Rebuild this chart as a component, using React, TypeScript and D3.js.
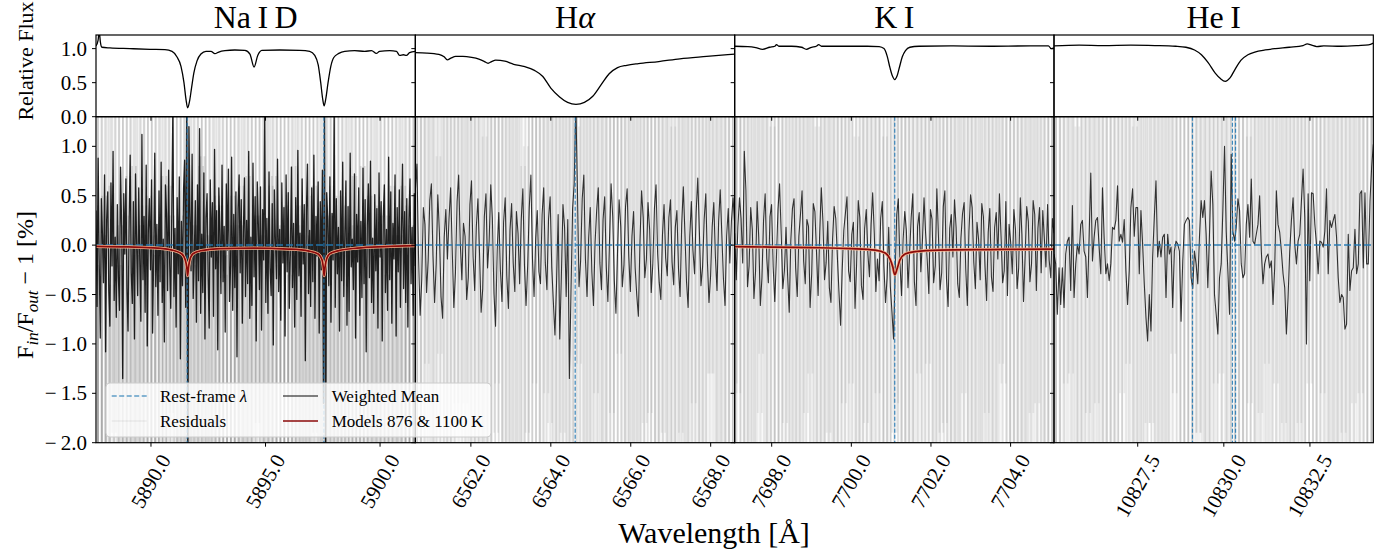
import React from 'react';
import * as d3 from 'd3';

// ---------- data ----------
const panelTitles = ['Na\u2009I\u2009D', 'H', 'K\u2009I', 'He\u2009I'];
const xDomains: [number, number][] = [
  [5887.6, 5901.54],
  [6560.61, 6568.6],
  [7697.07, 7705.09],
  [10825.07, 10834.34],
];
const xTicks = [
  [5890, 5895, 5900],
  [6562, 6564, 6566, 6568],
  [7698, 7700, 7702, 7704],
  [10827.5, 10830, 10832.5],
];
const restLines = [[5891.58, 5897.55], [6564.61], [7701.09], [10829.09, 10830.25, 10830.34]];
const fluxTicks = [0, 0.5, 1.0];
const resTicks = [-2, -1.5, -1, -0.5, 0, 0.5, 1.0];

// top row: relative flux [wavelength, flux]
const naFlux = [
  [5887.6, 1.04], [5887.69, 1.12], [5887.74, 1.25], [5887.79, 1.1], [5887.86, 1.02], [5888.21, 1.01],
  [5889.08, 1.0], [5889.96, 0.99], [5890.61, 0.985], [5890.92, 0.96], [5891.13, 0.88], [5891.31, 0.74],
  [5891.44, 0.5], [5891.53, 0.25], [5891.6, 0.13], [5891.68, 0.22], [5891.77, 0.42], [5891.87, 0.64],
  [5892.01, 0.82], [5892.18, 0.92], [5892.4, 0.96], [5892.62, 0.96], [5892.79, 0.925], [5892.96, 0.95],
  [5893.23, 0.97], [5893.66, 0.98], [5894.1, 0.975], [5894.32, 0.92], [5894.5, 0.73], [5894.66, 0.9],
  [5894.84, 0.975], [5895.62, 0.98], [5896.5, 0.975], [5896.93, 0.96], [5897.15, 0.9], [5897.3, 0.76],
  [5897.41, 0.5], [5897.5, 0.25], [5897.56, 0.16], [5897.63, 0.26], [5897.73, 0.5], [5897.85, 0.74],
  [5897.98, 0.87], [5898.2, 0.93], [5898.46, 0.96], [5898.89, 0.97], [5899.33, 0.96], [5899.63, 0.97],
  [5899.84, 0.93], [5899.98, 0.96], [5900.42, 0.97], [5900.72, 0.96], [5900.85, 0.9], [5901.02, 0.91],
  [5901.15, 0.9], [5901.29, 0.94], [5901.54, 0.96],
];
const haFlux = [
  [6560.61, 0.94], [6560.9, 0.935], [6561.2, 0.915], [6561.33, 0.88], [6561.41, 0.835], [6561.5, 0.86],
  [6561.62, 0.885], [6561.8, 0.885], [6562.02, 0.87], [6562.2, 0.845], [6562.34, 0.81], [6562.43, 0.785],
  [6562.52, 0.81], [6562.62, 0.83], [6562.85, 0.815], [6563.07, 0.77], [6563.35, 0.735], [6563.59, 0.68],
  [6563.8, 0.59], [6564.0, 0.42], [6564.22, 0.29], [6564.42, 0.21], [6564.63, 0.18], [6564.84, 0.21],
  [6565.05, 0.3], [6565.26, 0.47], [6565.46, 0.63], [6565.67, 0.72], [6565.9, 0.755], [6566.19, 0.78],
  [6566.7, 0.81], [6567.23, 0.85], [6567.9, 0.885], [6568.6, 0.92],
];
const kFlux = [
  [7697.07, 1.035], [7697.4, 1.03], [7697.6, 1.015], [7697.77, 0.99], [7697.95, 1.02], [7698.08, 1.035],
  [7698.12, 1.06], [7698.18, 1.035], [7698.5, 1.035], [7698.75, 1.02], [7698.87, 0.99], [7699.0, 1.02],
  [7699.12, 1.035], [7699.18, 1.06], [7699.25, 1.035], [7699.8, 1.035], [7700.4, 1.035], [7700.7, 1.03],
  [7700.82, 1.0], [7700.9, 0.89], [7700.97, 0.72], [7701.03, 0.6], [7701.09, 0.545], [7701.15, 0.6],
  [7701.21, 0.73], [7701.28, 0.88], [7701.36, 0.97], [7701.47, 1.02], [7701.7, 1.035], [7702.5, 1.04],
  [7703.5, 1.035], [7704.5, 1.04], [7704.95, 1.04], [7705.02, 1.0], [7705.09, 1.01],
];
const heFlux = [
  [10825.07, 1.04], [10825.8, 1.05], [10826.5, 1.045], [10827.3, 1.05], [10828.0, 1.045], [10828.6, 1.035],
  [10828.9, 1.02], [10829.15, 0.98], [10829.35, 0.91], [10829.55, 0.79], [10829.75, 0.64], [10829.9, 0.56],
  [10830.04, 0.52], [10830.18, 0.57], [10830.33, 0.7], [10830.5, 0.83], [10830.7, 0.91], [10830.9, 0.95],
  [10831.2, 0.98], [10831.5, 1.0], [10831.9, 1.02], [10832.3, 1.045], [10832.42, 1.07], [10832.55, 1.05],
  [10832.7, 1.03], [10832.9, 1.04], [10833.4, 1.035], [10833.9, 1.045], [10834.2, 1.055], [10834.34, 1.08],
];

// bottom row: weighted mean residuals [%], evenly spread over each panel's range
const naMean = [
  0.35, -0.62, 0.88, -0.15, -0.94, 0.47, 0.12, -0.38, 0.71, -1.08,
  0.26, 0.54, -0.47, -0.82, 0.63, -0.21, 0.95, -0.56, 0.08, -0.73,
  0.41, -0.33, -0.66, 0.79, 0.18, -1.35, 0.52, -0.09, 0.67, -0.44,
  -0.87, 0.23, 0.91, -0.28, -0.59, 0.44, -0.95, 0.72, 0.03, -0.51,
  0.58, -0.16, -0.77, 1.12, -0.35, 0.29, -0.68, 0.81, -1.02, 0.14,
  0.47, -0.25, 0.66, -0.89, -0.11, 0.93, -0.42, 0.21, -0.71, 0.55,
  -0.37, 0.84, -0.58, 0.06, -0.98, 0.61, 0.32, -0.46, 0.76, -0.19,
  -0.64, 0.39, 1.4, -0.52, 0.17, -0.83, 0.48, -0.29, 0.69, -1.15,
  0.24, -0.41, 0.57, 0.86, -0.63, 1.5, -2.4, 1.2, 0.33, -0.26,
  0.92, -0.54, -0.13, 0.45, -0.78, 0.61, -0.36, 1.18, -0.69, 0.11,
  -0.48, 0.73, -0.95, 0.28, 0.52, -0.31, -0.84, 0.66, -0.12, 0.43,
  -0.72, 0.97, -0.24, 0.35, -1.06, 0.58, 0.14, -0.49, 0.81, -0.37,
  0.19, -0.88, 0.62, -0.05, 0.77, -0.57, -0.21, 0.89, -0.66, 0.31,
  -0.43, 0.54, -1.13, 0.37, 0.71, -0.28, 0.46, -0.79, 0.13, 0.68,
  -0.52, 0.25, -0.39, 0.95, -0.74, 0.08, -0.61, 0.83, -0.32, 0.49,
  -0.97, 0.64, 0.21, -0.45, 0.59, -0.86, 0.36, -0.15, 1.35, -0.58,
  0.27, -0.69, 0.74, -0.23, -0.51, 0.42, -1.01, 0.56, 0.04, -0.34,
  0.87, -0.47, 0.16, -0.76, 0.63, -0.18, 0.38, -0.92, 0.71, -0.27,
  0.53, -0.64, -0.08, 0.79, -0.43, 0.22, -0.83, 0.48, -0.55, 0.96,
  -0.31, 0.12, -0.72, 0.67, -0.19, 0.41, -1.17, 0.35, 0.82, -0.49,
  0.15, -0.62, 0.58, -0.37, 0.91, -0.74, 0.29, -0.11, 0.64, -0.89,
  0.44, -0.25, 0.76, -1.6, 1.45, -2.3, 0.53, 0.26, -0.41, 0.69,
  -0.78, 0.32, -0.15, 1.32, -0.63, 0.47, -0.29, 0.18, -0.87, 0.55,
  -0.36, 0.84, -0.52, 0.11, 0.65, -0.81, 0.39, -0.67, 0.93, -0.22,
  0.06, -0.45, 0.72, -0.94, 0.31, -0.17, 0.58, -0.71, 0.24, -0.53,
  0.78, -0.39, 0.46, -1.08, 0.19, 0.62, -0.33, 0.85, -0.58, 0.07,
  -0.69, 0.51, -0.26, 0.37, -0.84, 0.73, -0.12, 0.44, -0.97, 0.29,
  0.61, -0.48, 0.16, -0.66, 0.89, -0.35, 0.54, -0.79, 0.22, -0.14,
  0.71, -0.92, 0.38, -0.27, 0.56, -0.63, 0.13, 0.82, -0.44, 0.34,
  -0.58, 0.47, -0.83, 0.25, 0.67, -0.39, 0.18, -0.71, 0.52, -0.21,
];
const haMean = [
  0.55, 0.82, -0.12, -0.71, -0.35, 0.38, 0.21, -0.48, -0.15, 0.45,
  0.62, -0.11, -0.58, -0.19, 0.51, 0.13, -0.52, -0.74, 0.08, 0.36,
  -0.14, 0.27, 0.58, -0.05, -0.63, -0.28, 0.44, 0.71, 0.02, -0.35,
  0.22, 0.09, -0.55, -0.33, 0.41, 0.65, -0.12, -0.46, 0.18, 0.47,
  -0.08, -0.68, -0.44, 0.29, 0.52, -0.23, 0.04, 0.61, 0.28, -0.49,
  -0.82, -0.06, 0.33, -0.25, -0.57, 0.23, 0.48, -0.31, -0.64, 0.15,
  0.42, -0.18, -0.47, 0.34, 0.12, -0.39, 0.26, 0.57, -0.2, -0.61,
  -0.21, 0.38, 0.71, -0.14, -0.52, 0.07, 0.35, -0.27, -0.39, 0.31,
  0.58, -0.18, -0.45, 0.26, 0.49, -0.22, -0.57, -0.91, -0.38, 0.31,
  -0.95, -0.32, 0.41, 0.18, -0.52, 0.26, -1.35, -0.48, 0.37, 0.62,
  1.45, 0.58, -0.42, -0.16, 0.47, 0.71, -0.14, -0.52, 0.07, 0.38,
  -0.27, -0.61, 0.02, 0.35, 0.58, -0.18, -0.45, 0.26, 0.49, -0.22,
  -0.57, 0.05, 0.62, 0.29, -0.36, -0.69, -0.07, 0.46, 0.19, -0.42,
  -0.2, 0.39, 0.57, -0.11, -0.47, 0.09, 0.34, -0.23, -0.51, -0.72,
  0.04, 0.55, 0.28, -0.33, -0.14, 0.43, 0.16, -0.48, -0.19, 0.37,
  0.61, -0.09, -0.38, -0.55, 0.1, 0.41, -0.13, -0.31, 0.28, 0.46,
  -0.17, -0.4, 0.18, 0.35, -0.24, -0.52, 0.21, 0.59, 0.12, -0.37,
  -0.63, 0.08, 0.44, -0.05, -0.29, 0.33, 0.68, 0.14, -0.41, -0.22,
  0.26, 0.52, -0.16, -0.58, -0.31, 0.19, 0.43, -0.12, -0.46, 0.24,
  0.56, 0.11, -0.34, -0.61, 0.09, 0.37, -0.18, 0.25, 0.48, 0.22,
];
const kMean = [
  0.12, -0.35, 0.18, 0.48, 0.27, -0.18, 0.95, 0.56, -0.42, -0.21,
  0.38, 0.16, -0.54, -0.27, 0.44, 0.08, -0.61, -0.33, 0.25, 0.52,
  -0.13, -0.38, 0.29, 0.41, -0.22, -0.57, -0.14, 0.36, 0.62, 0.11,
  -0.44, -0.26, 0.18, -0.31, -0.68, 0.05, 0.37, 0.47, -0.23, -0.52,
  0.09, 0.31, 0.55, -0.16, -0.39, 0.26, 0.19, -0.63, -0.29, 0.42,
  0.34, -0.07, -0.51, 0.13, 0.58, 0.24, -0.35, -0.18, 0.24, -0.43,
  -0.58, 0.06, 0.39, 0.27, -0.12, -0.47, -0.81, -0.26, 0.15, 0.32,
  0.49, -0.26, -0.37, 0.11, 0.23, -0.64, -0.19, 0.45, 0.28, -0.41,
  -0.55, 0.17, 0.36, -0.08, -0.32, 0.21, 0.53, 0.12, -0.47, -0.14,
  -0.36, 0.27, 0.44, -0.21, -0.58, -0.33, 0.18, -0.42, -0.67, -0.95,
  -0.29, 0.31, 0.47, -0.18, -0.51, 0.06, 0.34, 0.15, -0.43, -0.09,
  0.28, 0.52, -0.37, -0.61, 0.19, 0.33, -0.27, 0.04, 0.48, 0.12,
  -0.15, -0.49, 0.36, 0.26, -0.38, -0.21, 0.57, 0.09, -0.45, -0.28,
  0.39, 0.55, -0.34, -0.62, 0.17, 0.31, -0.12, 0.46, 0.18, -0.39,
  -0.53, 0.07, 0.32, 0.43, -0.24, -0.61, 0.14, 0.51, 0.38, -0.17,
  -0.44, 0.23, 0.06, -0.35, 0.42, 0.29, -0.21, -0.56, 0.13, 0.37,
  -0.32, -0.47, 0.18, 0.33, -0.14, 0.52, 0.09, -0.38, -0.26, 0.44,
  -0.51, 0.21, 0.03, -0.29, 0.36, 0.16, -0.44, -0.23, 0.48, 0.11,
  -0.57, -0.12, 0.39, 0.24, -0.37, -0.19, 0.45, 0.31, -0.46, 0.17,
  0.38, -0.28, 0.35, 0.06, -0.22, 0.41, -0.15, -0.33, 0.27, 0.12,
];
const heMean = [
  -0.09, -0.19, -0.7, -0.23, -0.6, -0.23, -0.63, -0.09, 0.04, 0.08,
  -0.46, 0.4, -0.53, -0.19, 0.01, -0.09, 0.21, 0.25, -0.06, -0.12,
  -0.53, 0.08, 0.73, -0.16, 0.08, 0.25, 0.28, -0.02, -0.29, 0.58,
  0.08, -0.29, -0.19, -0.36, -0.19, 0.18, 0.16, 0.25, 0.6, 0.04,
  0.11, 0.03, 0.26, -0.26, -0.6, -0.26, 0.38, 0.57, 0.09, 0.38,
  0.38, -0.29, 0.35, 0.01, -0.39, -0.73, -0.97, -0.5, -0.87, -0.12,
  0.28, 0.65, -0.12, 0.04, -0.12, 0.08, 0.11, -0.53, 0.11, -0.09,
  -0.02, -0.63, -0.06, 0.04, 0.01, -0.06, -0.77, -0.16, 0.21, 0.25,
  0.28, 0.25, -0.33, -0.44, -0.06, -0.19, -0.39, 0.08, 0.45, 0.28,
  0.45, 0.11, -0.43, 0.11, 0.75, 0.41, -0.5, -0.7, -0.9, -0.33,
  -0.19, 0.35, 1.0, 0.14, -0.26, -0.7, 0.92, 0.14, 0.04, 0.18,
  0.47, 0.35, -0.19, -0.33, -0.29, 0.21, 0.41, 0.08, 0.67, 0.04,
  0.01, 0.11, 0.21, 0.5, -0.06, -0.39, -0.19, -0.12, -0.09, -0.23,
  -0.16, -0.6, -0.23, 0.55, 0.21, 0.13, -0.06, -0.29, -0.43, -0.9,
  -0.53, -0.06, 0.25, 0.48, 0.01, -0.19, 0.04, 0.11, 0.45, 0.77,
  0.28, -1.0, 0.52, -0.36, 0.53, 0.52, 0.21, 0.01, -0.29, 0.04,
  0.03, -0.02, 0.14, 0.57, -0.29, 0.25, 0.18, 0.25, 0.31, 0.08,
  -0.33, -0.58, -0.5, -0.53, -0.85, -0.8, 0.11, -0.46, -0.26, -0.23,
  0.16, -0.29, -0.19, 0.52, 0.55, -0.23, 0.53, -0.19, -0.19, 0.45,
  0.79, 1.02,
];

// individual exposure residuals (mostly far outside the plotted range)
const naResA = [
  2.8, -3.1, 2.2, -2.6, 3.4, -1.9, 2.7, -3.3, 1.6, -2.9, 3.0, -2.4, 2.5, -3.6, 1.8, -2.2, 3.2, -2.7, 2.1, -3.0,
  2.9, -1.7, 2.4, -3.4, 3.1, -2.5, 1.9, -2.8, 2.6, -3.2, 2.3, -2.1, 3.5, -2.6, 2.0, -3.1, 2.8, -2.3, 1.7, -2.9,
  3.3, -2.4, 2.2, -3.5, 2.6, -1.8, 3.0, -2.7, 2.4, -3.2, 1.9, -2.6, 3.1, -2.2, 2.7, -3.0, 2.1, -2.5, 3.4, -2.8,
  2.3, -1.9, 2.9, -3.3, 2.5, -2.4, 1.8, -3.1, 3.0, -2.6, 2.2, -2.9, 2.8, -2.1, 3.2, -3.4, 1.7, -2.3, 2.6, -2.8,
  3.1, -2.5, 2.0, -3.0, 2.7, -2.2, 3.3, -2.6, 2.4, -3.1,
];
const naResB = [
  0.4, -3.2, 0.1, -2.8, 0.6, -3.5, -0.2, -2.6, 0.3, -3.0, 0.8, -2.9, 0.2, -3.4, 0.5, -2.5, -0.1, -3.1, 0.7, -2.7,
  0.3, -3.3, 0.0, -2.8, 0.6, -3.0, 0.2, -2.4, 0.9, -3.6, 0.1, -2.9, 0.4, -3.2, -0.3, -2.7, 0.5, -3.1, 0.2, -2.6,
  0.7, -3.4, 0.3, -2.8, 0.1, -3.0, 0.6, -2.5, -0.2, -3.3, 0.4, -2.9, 0.8, -3.1, 0.2, -2.7, 0.5, -3.5, 0.0, -2.6,
  0.3, -3.0, 0.6, -2.8, 0.1, -3.2, 0.4, -2.5, 0.7, -3.3, 0.2, -2.9, 0.5, -3.1, -0.1, -2.7, 0.3, -3.4, 0.6, -2.8,
  0.1, -3.0, 0.4, -2.6, 0.2,
];
const naResC = [
  -2.9, 3.1, -2.4, 2.7, -3.3, 2.2, -2.8, 3.4, -2.1, 2.6, -3.0, 2.9, -2.5, 3.2, -2.7, 2.4, -3.5, 2.8, -2.2, 3.0,
  -2.6, 3.3, -2.9, 2.1, -3.1, 2.7, -2.4, 3.5, -2.8, 2.5, -3.2, 2.3, -2.6, 3.0, -2.3, 2.9, -3.4, 2.6, -2.7, 3.1,
  -2.5, 2.2, -3.0, 2.8, -2.1, 3.3, -2.9, 2.4, -3.3, 2.7, -2.2, 3.2, -2.8, 2.5, -3.1, 2.0, -2.6, 3.4, -2.4, 2.9,
  -3.0, 2.6, -2.7, 3.1, -2.3, 2.8, -3.5, 2.2, -2.9, 3.0, -2.5, 2.7, -3.2, 2.4, -2.8, 3.3, -2.6, 2.9,
];
const naResD = [
  -0.2, -3.1, 0.5, -2.4, -0.4, -3.3, 0.2, -2.9, 0.7, -2.6, -0.1, -3.4, 0.4, -2.7, 0.1, -3.0, -0.3, -2.5, 0.6, -3.2,
  0.0, -2.8, 0.3, -3.5, -0.2, -2.6, 0.8, -3.1, 0.1, -2.7, 0.5, -3.3, -0.1, -2.9, 0.2, -2.4, 0.6, -3.0, -0.4, -2.8,
  0.3, -3.4, 0.0, -2.6, 0.7, -3.1, 0.2, -2.9, -0.3, -3.2, 0.4, -2.5, 0.1, -3.3, 0.6, -2.7, -0.2, -3.0, 0.3, -2.8,
  0.5, -3.4, -0.1, -2.6, 0.2, -3.1, 0.8, -2.9, 0.0, -3.2, 0.4, -2.7, -0.3, -3.0, 0.1, -2.5, 0.6, -3.3, 0.2, -2.8,
];
const haResA = [
  2.6, -2.9, 3.2, -2.2, 2.4, -3.4, 1.9, -2.7, 3.0, -2.5, 2.2, -3.1, 2.8, -1.8, 3.3, -2.6, 2.1, -2.9, 2.7, -3.2,
  1.8, -2.4, 3.1, -2.8, 2.5, -2.1, 3.4, -3.0, 2.0, -2.6, 2.9, -3.3, 2.3, -1.9, 2.6, -2.8, 3.2, -2.4, 2.1, -3.0,
  2.8, -2.2, 1.7, -3.1, 3.0, -2.7, 2.4, -2.3, 3.3, -2.9, 2.2, -3.4, 2.6, -2.0, 2.9, -2.6, 3.1, -2.5, 2.0, -3.2,
  2.7, -2.1, 3.4, -2.8, 2.3, -3.0, 1.9, -2.4, 3.0, -2.7, 2.5, -3.3, 2.8, -1.9, 2.2, -2.9, 3.2, -2.3, 2.6, -3.1,
  2.1, -2.6, 3.3, -2.8, 2.4, -2.2, 2.9, -3.4, 2.0, -2.5, 3.1, -2.7, 2.6, -3.0, 2.3,
];
const haResB = [
  -3.0, 2.4, -2.6, 3.1, -2.2, 2.8, -3.3, 2.0, -2.7, 3.4, -2.4, 2.3, -2.9, 2.7, -3.1, 2.1, -2.5, 3.2, -2.8, 2.6,
  -2.1, 3.0, -3.4, 2.5, -2.3, 2.9, -2.7, 3.3, -2.0, 2.4, -3.2, 2.8, -2.6, 2.2, -3.0, 3.1, -2.4, 2.6, -2.9, 2.3,
  -3.3, 2.7, -2.2, 3.0, -2.8, 2.1, -2.5, 3.4, -3.1, 2.5, -2.3, 2.9, -2.7, 3.2, -2.1, 2.6, -3.4, 2.4, -2.6, 3.0,
  -2.9, 2.2, -2.4, 2.8, -3.2, 2.7, -2.5, 3.1, -2.8, 2.3, -3.0, 2.6, -2.2, 3.3, -2.7, 2.5, -3.1, 2.0, -2.6, 2.9,
  -2.3, 3.2, -2.9, 2.4, -3.3, 2.8, -2.5,
];
const haResC = [
  1.6, -3.4, 2.9, -1.2, 3.1, -2.6, 0.9, -2.8, 3.5, -2.1, 1.4, -3.0, 2.7, -1.6, 3.2, -2.4, 2.0, -3.3, 1.1, -2.7,
  3.4, -1.9, 2.5, -3.1, 1.7, -2.2, 3.0, -2.9, 0.8, -2.5, 3.3, -1.4, 2.6, -3.2, 2.1, -1.8, 3.1, -2.7, 1.5, -3.4,
  2.8, -2.0, 1.2, -2.6, 3.4, -2.3, 2.2, -1.5, 3.0, -3.1, 1.9, -2.4, 2.7, -1.1, 3.3, -2.8, 1.6, -3.0, 2.4, -2.1,
  3.1, -1.7, 2.0, -3.3, 2.9, -2.5, 1.3, -2.9, 3.2, -1.9, 2.3, -3.2, 1.8, -2.2, 3.0, -2.6, 2.5, -1.3, 3.4, -2.7,
  1.4, -3.1, 2.6, -2.0,
];
const haResD = [
  -1.8, 2.9, -3.3, 1.5, -2.5, 3.2, -1.1, 2.4, -3.0, 2.7, -1.6, 3.4, -2.2, 1.3, -2.8, 3.0, -2.6, 1.9, -3.4, 2.2,
  -1.4, 3.1, -2.9, 1.7, -2.3, 2.8, -3.1, 1.0, -2.0, 3.3, -2.7, 2.1, -1.5, 3.0, -3.2, 2.5, -1.9, 2.6, -2.4, 3.4,
  -1.2, 2.3, -3.0, 1.6, -2.7, 3.1, -2.1, 2.8, -1.7, 2.0, -3.3, 2.6, -2.5, 1.4, -2.9, 3.2, -1.8, 2.4, -3.1, 1.9,
  -2.2, 3.0, -2.8, 1.2, -2.4, 3.3, -3.0, 2.2, -1.6, 2.9, -2.6, 3.1, -1.3, 2.5, -3.2, 1.8, -2.1, 2.7, -2.9,
];
const kResA = [
  3.1, -2.6, 2.3, -3.0, 2.7, -2.2, 3.4, -2.8, 2.0, -2.5, 2.9, -3.3, 2.4, -2.1, 3.2, -2.7, 2.6, -3.1, 1.9, -2.4,
  3.0, -2.9, 2.2, -2.6, 3.3, -2.3, 2.8, -3.4, 2.5, -2.0, 2.7, -3.0, 3.1, -2.5, 2.1, -2.8, 2.9, -3.2, 2.4, -2.2,
  3.4, -2.7, 2.0, -3.0, 2.6, -2.4, 3.2, -2.9, 2.3, -3.3, 2.8, -2.1, 2.5, -2.6, 3.0, -3.1, 2.2, -2.4, 2.9, -2.8,
  3.3, -2.2, 2.6, -3.0, 2.1, -2.7, 3.1, -3.4, 2.4, -2.3, 2.8, -2.9, 3.0, -2.5, 2.2, -3.2, 2.7, -2.6, 3.4, -2.1,
  2.5, -3.0, 2.9, -2.4, 2.3, -3.1, 3.2, -2.7, 2.0, -2.8, 2.6, -3.3,
];
const kResB = [
  -2.7, 3.0, -3.2, 2.5, -2.4, 2.9, -2.1, 3.3, -2.8, 2.2, -3.0, 2.7, -2.5, 3.1, -3.4, 2.4, -2.2, 2.8, -2.9, 3.2,
  -2.6, 2.1, -3.1, 2.6, -2.3, 3.4, -2.8, 2.3, -2.5, 3.0, -3.3, 2.7, -2.0, 2.5, -2.9, 3.1, -2.4, 2.2, -3.2, 2.8,
  -2.7, 3.3, -2.2, 2.6, -3.0, 2.4, -2.6, 3.2, -2.8, 2.1, -3.4, 2.9, -2.3, 2.7, -2.5, 3.0, -3.1, 2.3, -2.7, 3.4,
  -2.4, 2.6, -3.0, 2.2, -2.8, 3.1, -2.2, 2.8, -3.3, 2.5, -2.6, 2.9, -2.1, 3.2, -3.0, 2.4, -2.5, 2.7, -2.9, 3.1,
  -2.3, 2.6, -3.2, 2.8,
];
const kResC = [
  2.2, -1.5, 3.3, -2.9, 1.8, -3.2, 2.6, -1.1, 3.0, -2.4, 1.3, -2.7, 3.4, -2.0, 2.1, -3.1, 1.6, -2.3, 2.9, -1.7,
  3.2, -2.8, 1.2, -3.4, 2.5, -1.9, 3.1, -2.2, 1.7, -3.0, 2.8, -1.4, 2.3, -2.6, 3.3, -1.8, 1.9, -3.3, 2.7, -2.1,
  1.1, -2.9, 3.0, -1.6, 2.4, -3.2, 2.0, -2.5, 3.4, -1.3, 1.5, -2.8, 3.1, -2.3, 2.2, -1.9, 3.2, -3.0, 1.4, -2.4,
  2.9, -1.5, 2.6, -3.3, 1.8, -2.0, 3.0, -2.7, 1.6, -3.1, 2.4, -1.2, 3.3, -2.6, 2.0, -2.2, 1.3, -3.4, 2.8, -1.7,
  2.5, -2.9, 3.1, -2.1, 1.9, -3.0,
];
const kResD = [
  -1.4, 3.0, -2.6, 1.9, -3.3, 2.3, -1.7, 3.4, -2.1, 1.2, -2.9, 2.8, -1.8, 3.1, -3.0, 1.5, -2.4, 2.6, -1.3, 3.2,
  -2.7, 2.0, -3.4, 1.7, -2.2, 2.9, -1.6, 3.3, -2.5, 1.1, -3.1, 2.4, -2.0, 3.0, -1.5, 2.2, -2.8, 3.4, -1.9, 1.8,
  -3.2, 2.7, -2.3, 1.4, -2.6, 3.1, -1.2, 2.5, -3.0, 2.1, -1.8, 3.3, -2.9, 1.6, -2.1, 2.8, -3.3, 1.3, -2.5, 3.0,
  -1.7, 2.3, -2.7, 3.2, -1.4, 1.9, -3.1, 2.6, -2.2, 1.5, -2.8, 3.4, -1.6, 2.2, -3.2, 2.9, -2.0,
];
const heResA = [
  2.5, -3.2, 2.9, -2.3, 2.1, -2.8, 3.3, -2.6, 2.4, -3.0, 2.7, -2.1, 3.1, -2.9, 2.2, -2.5, 3.4, -3.1, 2.0, -2.7,
  2.8, -2.4, 3.2, -2.2, 2.6, -3.3, 2.3, -2.8, 3.0, -2.5, 2.1, -3.4, 2.9, -2.6, 2.4, -2.0, 3.3, -2.9, 2.7, -3.1,
  2.2, -2.5, 3.1, -2.8, 2.5, -3.2, 2.0, -2.3, 2.8, -3.0, 3.4, -2.7, 2.3, -2.4, 2.9, -3.3, 2.6, -2.1, 3.2, -2.9,
  2.4, -2.6, 3.0, -3.1, 2.1, -2.8, 2.7, -2.2, 3.3, -3.0, 2.5, -2.4, 2.8, -3.2, 2.2, -2.7, 3.1, -2.5, 2.6, -3.3,
  2.9, -2.3, 3.0, -2.8, 2.4, -3.1, 2.7, -2.6,
];
const heResB = [
  -3.1, 2.7, -2.4, 3.0, -2.8, 2.3, -3.3, 2.6, -2.1, 2.9, -2.6, 3.2, -3.0, 2.2, -2.5, 2.8, -3.4, 2.4, -2.7, 3.1,
  -2.3, 2.5, -2.9, 3.3, -2.6, 2.1, -3.2, 2.7, -2.4, 3.0, -2.8, 2.3, -3.1, 2.6, -2.2, 3.4, -2.7, 2.4, -3.0, 2.9,
  -2.5, 2.2, -3.3, 2.8, -2.6, 3.1, -2.9, 2.5, -2.3, 3.0, -3.2, 2.6, -2.4, 2.1, -2.8, 3.3, -2.5, 2.7, -3.1, 2.4,
  -2.7, 3.2, -2.2, 2.9, -3.0, 2.3, -2.6, 2.8, -3.4, 2.5, -2.1, 3.0, -2.9, 2.6, -2.4, 3.1, -2.8, 2.2,
];
const heResC = [
  1.9, -2.7, 3.3, -1.4, 2.4, -3.1, 1.2, -2.3, 3.0, -2.9, 1.7, -1.6, 3.4, -2.5, 2.1, -3.3, 1.5, -2.0, 2.8, -1.2,
  3.1, -2.6, 1.9, -3.4, 2.5, -1.8, 1.4, -2.9, 3.2, -2.2, 2.0, -1.5, 2.7, -3.2, 1.3, -2.4, 3.3, -1.9, 2.2, -3.0,
  1.6, -2.7, 2.9, -1.3, 3.1, -2.8, 1.8, -2.1, 2.6, -3.4, 1.1, -2.5, 3.0, -1.7, 2.3, -3.1, 2.8, -1.4, 1.5, -2.6,
  3.4, -2.3, 1.9, -1.8, 2.9, -3.2, 2.1, -2.0, 3.2, -1.5, 1.7, -2.9, 2.6, -3.0, 1.4, -2.2, 3.1, -1.6, 2.4, -3.3,
  2.0, -2.4, 2.7,
];
const heResD = [
  -2.1, 1.6, -3.2, 2.8, -1.3, 2.3, -2.9, 3.3, -1.7, 1.4, -2.5, 3.0, -3.4, 1.9, -2.0, 2.7, -1.5, 3.2, -2.8, 1.2,
  -2.3, 3.4, -1.8, 2.1, -3.1, 1.7, -2.6, 2.9, -1.1, 3.1, -2.4, 1.5, -3.3, 2.5, -1.9, 2.2, -2.7, 3.3, -1.4, 1.8,
  -3.0, 2.6, -2.2, 1.3, -2.9, 3.1, -1.6, 2.4, -3.2, 2.0, -1.2, 2.8, -2.5, 3.4, -1.8, 1.6, -3.1, 2.3, -2.1, 2.9,
  -1.4, 3.2, -2.7, 1.9, -2.4, 2.5, -3.3, 1.4, -1.9, 3.0, -2.6, 2.1, -1.5, 2.7, -3.0, 1.8,
];

// model spectra (876 K & 1100 K overlap) [wavelength, residual %]
const naModel = [
  [5887.6, -0.012], [5889.0, -0.018], [5890.3, -0.03], [5891.0, -0.055], [5891.35, -0.09], [5891.5, -0.15],
  [5891.57, -0.24], [5891.6, -0.31], [5891.64, -0.22], [5891.72, -0.13], [5891.85, -0.085], [5892.2, -0.055],
  [5893.0, -0.035], [5894.5, -0.03], [5896.0, -0.04], [5896.9, -0.06], [5897.3, -0.09], [5897.47, -0.15],
  [5897.53, -0.24], [5897.56, -0.31], [5897.6, -0.22], [5897.68, -0.13], [5897.82, -0.085], [5898.2, -0.055],
  [5899.0, -0.03], [5900.2, -0.015], [5901.54, -0.005],
];
const kModel = [
  [7697.07, -0.015], [7698.0, -0.02], [7699.0, -0.025], [7700.0, -0.035], [7700.6, -0.05], [7700.85, -0.08],
  [7700.97, -0.14], [7701.04, -0.22], [7701.09, -0.3], [7701.15, -0.24], [7701.22, -0.15], [7701.35, -0.09],
  [7701.6, -0.065], [7702.2, -0.05], [7703.5, -0.045], [7705.09, -0.04],
];

const fluxSeries = [naFlux, haFlux, kFlux, heFlux];
const meanSeries = [naMean, haMean, kMean, heMean];
const residSeries = [
  [naResA, naResB, naResC, naResD],
  [haResA, haResB, haResC, haResD],
  [kResA, kResB, kResC, kResD],
  [heResA, heResB, heResC, heResD],
];
const modelSeries = [naModel, null, kModel, null];

const FONT = "'Liberation Serif', 'DejaVu Serif', 'Times New Roman', Times, serif";
const BLUE = '#1f77b4';

const App = () => {
  const L = 96, R = 1373.33;
  const pw = (R - L) / 4;
  const yTop = 35, yMid = 116.7, yBot = 442.7;

  const yFlux = d3.scaleLinear().domain([0, 1.2]).range([yMid, yTop]);
  const yRes = d3.scaleLinear().domain([-2, 1.3]).range([yBot, yMid]);
  const fmt = d3.format('.1f');

  const panels = xDomains.map((dom, i) => {
    const x0 = L + i * pw;
    const x = d3.scaleLinear().domain(dom).range([x0, x0 + pw]);
    return { i, x0, x, dom };
  });

  const pairLine = (x: any, y: any) =>
    d3.line<number[]>().x(d => x(d[0])).y(d => y(d[1])).curve(d3.curveMonotoneX);
  const evenLine = (vals: number[], x: any, dom: [number, number]) => {
    const idx = d3.scaleLinear().domain([0, vals.length - 1]).range(dom);
    return d3.line<number>().x((_, k) => x(idx(k))).y(v => yRes(v))(vals);
  };
  // each residual exposure: the jump between neighbouring samples, drawn as a near-vertical stroke
  const residJumps = (vals: number[], x: any, dom: [number, number]) => {
    const idx = d3.scaleLinear().domain([0, vals.length - 1]).range(dom);
    return d3.pairs(vals).map(([a, b], k) => {
      const px = x(idx(k + 0.5));
      return `M${px},${yRes(a)}V${yRes(b)}`;
    }).join('');
  };

  const tickLen = 4;

  return (
    <svg width={1389} height={556}
      style={{ position: 'absolute', left: 0, top: 0, background: '#fff', fontFamily: FONT }}>
      <defs>
        {panels.map(p => (
          <React.Fragment key={p.i}>
            <clipPath id={`ct${p.i}`}><rect x={p.x0} y={yTop} width={pw} height={yMid - yTop} /></clipPath>
            <clipPath id={`cb${p.i}`}><rect x={p.x0} y={yMid} width={pw} height={yBot - yMid} /></clipPath>
          </React.Fragment>
        ))}
      </defs>

      {panels.map(p => {
        const { i, x0, x, dom } = p;
        const model = modelSeries[i];
        return (
          <g key={i}>
            {/* title */}
            <text x={x0 + pw / 2} y={28} textAnchor="middle" fontSize={32}>
              {panelTitles[i]}
              {i === 1 && <tspan fontStyle="italic">α</tspan>}
            </text>

            {/* top: relative flux */}
            <g clipPath={`url(#ct${i})`}>
              <path d={pairLine(x, yFlux)(fluxSeries[i] as any) || ''} fill="none" stroke="#000" strokeWidth={1.3} />
            </g>

            {/* bottom: residuals */}
            <g clipPath={`url(#cb${i})`}>
              {residSeries[i].map((r, k) => (
                <path key={k} d={residJumps(r, x, dom)} fill="none" stroke="#000"
                  strokeOpacity={i === 0 ? 0.11 : 0.065} strokeWidth={1.8} />
              ))}
              <path d={evenLine(meanSeries[i], x, dom) || ''} fill="none" stroke="#000"
                strokeOpacity={i === 0 ? 0.85 : 0.78} strokeWidth={i === 0 ? 1.3 : 1.1} strokeLinejoin="round" />
              <line x1={x0} x2={x0 + pw} y1={yRes(0)} y2={yRes(0)} stroke={BLUE} strokeOpacity={0.7}
                strokeWidth={2} strokeDasharray="7,3" />
              {restLines[i].map(w => (
                <line key={w} x1={x(w)} x2={x(w)} y1={yMid} y2={yBot} stroke={BLUE} strokeOpacity={0.85}
                  strokeWidth={1.2} strokeDasharray="4,2" />
              ))}
              {model && (
                <>
                  <path d={pairLine(x, yRes)(model as any) || ''} fill="none" stroke="#f6b48e" strokeWidth={3.2} />
                  <path d={pairLine(x, yRes)(model as any) || ''} fill="none" stroke="#8b0a0a" strokeWidth={1.7} />
                </>
              )}
            </g>

            {/* frames */}
            <rect x={x0} y={yTop} width={pw} height={yMid - yTop} fill="none" stroke="#000" strokeWidth={1.2} />
            <rect x={x0} y={yMid} width={pw} height={yBot - yMid} fill="none" stroke="#000" strokeWidth={1.2} />

            {/* x ticks */}
            {xTicks[i].map(t => {
              const s = fmt(t);
              const len = (s.length - 0.5) * 0.5 * 21;
              const cy = 451 + (len * 0.866 + 10.5) / 2;
              return (
                <g key={t}>
                  <line x1={x(t)} x2={x(t)} y1={yMid} y2={yMid + tickLen} stroke="#000" strokeWidth={1} />
                  <line x1={x(t)} x2={x(t)} y1={yBot} y2={yBot + tickLen} stroke="#000" strokeWidth={1} />
                  <text transform={`translate(${x(t)},${cy}) rotate(-60)`} textAnchor="middle"
                    dominantBaseline="central" fontSize={21}>{s}</text>
                </g>
              );
            })}

            {/* y ticks */}
            {fluxTicks.map(t => (
              <g key={'f' + t}>
                <line x1={x0 - tickLen} x2={x0} y1={yFlux(t)} y2={yFlux(t)} stroke="#000" strokeWidth={1} />
                {i === 0 && (
                  <text x={x0 - 9} y={yFlux(t)} textAnchor="end" dominantBaseline="central" fontSize={21}>
                    {fmt(t)}
                  </text>
                )}
              </g>
            ))}
            {resTicks.map(t => (
              <g key={'r' + t}>
                <line x1={x0 - tickLen} x2={x0} y1={yRes(t)} y2={yRes(t)} stroke="#000" strokeWidth={1} />
                {i === 0 && (
                  <text x={x0 - 9} y={yRes(t)} textAnchor="end" dominantBaseline="central" fontSize={21}>
                    {t < 0 ? '\u2212\u2009' + fmt(-t) : fmt(t)}
                  </text>
                )}
              </g>
            ))}
          </g>
        );
      })}

      {/* axis labels */}
      <text transform="translate(33,61) rotate(-90)" textAnchor="middle" fontSize={22}>Relative Flux</text>
      <text transform="translate(33,285) rotate(-90)" textAnchor="middle" fontSize={24}>
        F<tspan dy={5} fontSize={17} fontStyle="italic">in</tspan>
        <tspan dy={-5}>/F</tspan>
        <tspan dy={5} fontSize={17} fontStyle="italic">out</tspan>
        <tspan dy={-5}>{' \u2212 1 [%]'}</tspan>
      </text>
      <text x={714} y={543} textAnchor="middle" fontSize={30}>Wavelength [Å]</text>

      {/* legend */}
      <g fontSize={17}>
        <rect x={106} y={383} width={385} height={54} rx={4} fill="#fff" fillOpacity={0.8}
          stroke="#ccc" strokeWidth={1} />
        <line x1={111.7} x2={146.7} y1={396} y2={396} stroke={BLUE} strokeOpacity={0.7} strokeWidth={1.5}
          strokeDasharray="5,2.5" />
        <text x={160} y={396} dominantBaseline="central">
          Rest-frame <tspan fontStyle="italic">λ</tspan>
        </text>
        <line x1={111.7} x2={146.7} y1={421} y2={421} stroke="#000" strokeOpacity={0.06} strokeWidth={1.5} />
        <text x={160} y={421} dominantBaseline="central">Residuals</text>
        <line x1={283} x2={318} y1={396} y2={396} stroke="#000" strokeOpacity={0.65} strokeWidth={1.5} />
        <text x={331.7} y={396} dominantBaseline="central">Weighted Mean</text>
        <line x1={283} x2={318} y1={421} y2={421} stroke="#8b0a0a" strokeWidth={1.7} />
        <text x={331.7} y={421} dominantBaseline="central">Models 876 &amp; 1100{'\u2009'}K</text>
      </g>
    </svg>
  );
};

export default App;
